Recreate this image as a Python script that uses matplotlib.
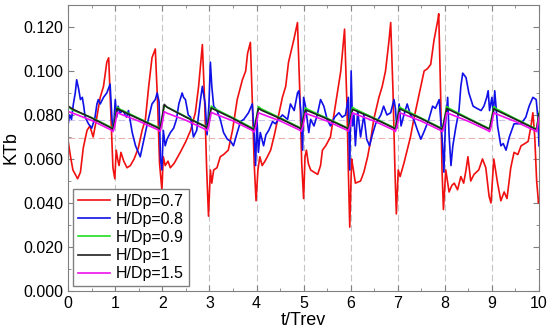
import matplotlib
matplotlib.use("Agg")
import matplotlib.pyplot as plt
from matplotlib.ticker import MultipleLocator

plt.rcParams["font.family"] = ["Liberation Sans", "DejaVu Sans"]

# --------------------------------------------------------------------------- #
# Data                                       #
# --------------------------------------------------------------------------- #
labels = ["H/Dp=0.7", "H/Dp=0.8", "H/Dp=0.9", "H/Dp=1", "H/Dp=1.5"]

t_07 = [0.00, 0.05, 0.10, 0.15, 0.20, 0.26, 0.32, 0.40, 0.46, 0.53, 0.60, 0.68, 0.75, 0.82, 0.86,
        0.91, 0.95, 0.99, 1.02, 1.05, 1.08, 1.12, 1.18, 1.25, 1.32, 1.40, 1.49, 1.57, 1.64, 1.71,
        1.78, 1.85, 1.90, 1.94, 1.99, 2.02, 2.06, 2.12, 2.17, 2.25, 2.38, 2.50, 2.60, 2.70, 2.77,
        2.85, 2.90, 2.94, 2.98, 3.02, 3.05, 3.09, 3.16, 3.23, 3.30, 3.40, 3.49, 3.59, 3.70, 3.77,
        3.81, 3.87, 3.92, 3.95, 3.99, 4.03, 4.07, 4.12, 4.18, 4.23, 4.30, 4.38, 4.45, 4.55, 4.62,
        4.68, 4.79, 4.87, 4.92, 4.96, 5.00, 5.03, 5.06, 5.10, 5.15, 5.22, 5.30, 5.36, 5.40, 5.47,
        5.57, 5.68, 5.79, 5.85, 5.87, 5.92, 5.95, 5.98, 6.02, 6.05, 6.10, 6.21, 6.28, 6.36, 6.42,
        6.49, 6.60, 6.67, 6.74, 6.81, 6.85, 6.90, 6.94, 6.97, 7.01, 7.05, 7.13, 7.20, 7.27, 7.34,
        7.49, 7.56, 7.63, 7.70, 7.77, 7.85, 7.87, 7.91, 7.94, 7.97, 8.02, 8.09, 8.15, 8.20, 8.27,
        8.34, 8.40, 8.45, 8.49, 8.55, 8.62, 8.72, 8.80, 8.87, 8.94, 8.98, 9.04, 9.12, 9.19, 9.26,
        9.32, 9.40, 9.47, 9.55, 9.62, 9.70, 9.77, 9.83, 9.87, 9.91, 9.95, 9.99, 10.00]
kt_07 = [0.068, 0.061, 0.055, 0.053, 0.051, 0.054, 0.065, 0.073, 0.075, 0.070, 0.078, 0.088, 0.093, 0.104, 0.106,
         0.078, 0.056, 0.051, 0.064, 0.060, 0.057, 0.063, 0.059, 0.056, 0.057, 0.060, 0.065, 0.073, 0.078, 0.093,
         0.106, 0.110, 0.085, 0.058, 0.046, 0.061, 0.057, 0.059, 0.056, 0.058, 0.063, 0.068, 0.073, 0.081, 0.093,
         0.112, 0.085, 0.056, 0.034, 0.055, 0.049, 0.055, 0.056, 0.061, 0.062, 0.064, 0.073, 0.087, 0.096, 0.100,
         0.108, 0.113, 0.080, 0.058, 0.041, 0.055, 0.061, 0.057, 0.059, 0.061, 0.064, 0.071, 0.078, 0.088, 0.093,
         0.104, 0.114, 0.122, 0.090, 0.058, 0.042, 0.061, 0.064, 0.058, 0.055, 0.054, 0.053, 0.057, 0.064, 0.066,
         0.070, 0.085, 0.100, 0.114, 0.119, 0.085, 0.055, 0.029, 0.060, 0.056, 0.049, 0.050, 0.054, 0.061, 0.068,
         0.078, 0.088, 0.093, 0.100, 0.113, 0.122, 0.090, 0.055, 0.035, 0.055, 0.052, 0.058, 0.064, 0.070, 0.078,
         0.093, 0.100, 0.101, 0.103, 0.114, 0.123, 0.126, 0.090, 0.055, 0.037, 0.055, 0.045, 0.048, 0.049, 0.046,
         0.052, 0.049, 0.055, 0.061, 0.050, 0.053, 0.055, 0.060, 0.056, 0.043, 0.040, 0.060, 0.049, 0.041, 0.045,
         0.042, 0.056, 0.063, 0.062, 0.066, 0.067, 0.068, 0.075, 0.081, 0.070, 0.050, 0.040, 0.042]

t_08 = [0.00, 0.03, 0.07, 0.11, 0.15, 0.18, 0.22, 0.26, 0.30, 0.33, 0.36, 0.43, 0.50, 0.57, 0.61,
        0.64, 0.68, 0.75, 0.82, 0.89, 0.93, 0.96, 1.00, 1.03, 1.06, 1.10, 1.17, 1.21, 1.24, 1.28,
        1.36, 1.43, 1.49, 1.53, 1.60, 1.68, 1.78, 1.85, 1.89, 1.93, 1.96, 1.99, 2.02, 2.06, 2.10,
        2.17, 2.24, 2.30, 2.35, 2.42, 2.45, 2.49, 2.55, 2.60, 2.66, 2.73, 2.81, 2.85, 2.91, 2.95,
        2.99, 3.02, 3.05, 3.09, 3.16, 3.23, 3.30, 3.38, 3.45, 3.51, 3.59, 3.66, 3.73, 3.83, 3.91,
        3.95, 3.98, 4.01, 4.04, 4.08, 4.15, 4.20, 4.26, 4.34, 4.40, 4.47, 4.55, 4.66, 4.72, 4.80,
        4.87, 4.90, 4.94, 4.98, 5.00, 5.04, 5.08, 5.11, 5.15, 5.22, 5.29, 5.36, 5.43, 5.50, 5.57,
        5.66, 5.75, 5.82, 5.89, 5.95, 5.98, 6.01, 6.04, 6.07, 6.10, 6.15, 6.21, 6.28, 6.34, 6.40,
        6.46, 6.53, 6.64, 6.70, 6.77, 6.85, 6.92, 6.95, 6.98, 7.03, 7.07, 7.13, 7.20, 7.27, 7.34,
        7.42, 7.49, 7.57, 7.66, 7.74, 7.80, 7.88, 7.95, 7.98, 8.01, 8.06, 8.09, 8.13, 8.17, 8.23,
        8.30, 8.34, 8.38, 8.45, 8.51, 8.60, 8.68, 8.77, 8.83, 8.89, 8.92, 8.95, 9.00, 9.03, 9.06,
        9.12, 9.19, 9.24, 9.30, 9.37, 9.47, 9.62, 9.72, 9.79, 9.87, 9.94, 9.98, 10.00]
kt_08 = [0.076, 0.080, 0.078, 0.085, 0.090, 0.096, 0.092, 0.087, 0.088, 0.084, 0.079, 0.076, 0.074, 0.079, 0.085,
         0.087, 0.085, 0.088, 0.090, 0.094, 0.078, 0.073, 0.087, 0.079, 0.084, 0.081, 0.082, 0.080, 0.079, 0.082,
         0.072, 0.066, 0.063, 0.061, 0.068, 0.076, 0.085, 0.087, 0.090, 0.086, 0.060, 0.055, 0.073, 0.066, 0.069,
         0.072, 0.074, 0.078, 0.085, 0.090, 0.088, 0.087, 0.080, 0.079, 0.070, 0.073, 0.087, 0.093, 0.085, 0.071,
         0.085, 0.104, 0.093, 0.084, 0.082, 0.078, 0.072, 0.069, 0.068, 0.066, 0.072, 0.077, 0.078, 0.081, 0.085,
         0.071, 0.057, 0.078, 0.063, 0.072, 0.066, 0.071, 0.073, 0.077, 0.076, 0.078, 0.080, 0.078, 0.085, 0.082,
         0.090, 0.091, 0.082, 0.064, 0.088, 0.084, 0.077, 0.072, 0.078, 0.075, 0.080, 0.087, 0.084, 0.078, 0.075,
         0.079, 0.081, 0.079, 0.080, 0.088, 0.055, 0.100, 0.075, 0.080, 0.066, 0.082, 0.070, 0.080, 0.069, 0.066,
         0.071, 0.076, 0.080, 0.084, 0.080, 0.081, 0.087, 0.083, 0.074, 0.085, 0.075, 0.080, 0.085, 0.080, 0.078,
         0.073, 0.069, 0.073, 0.078, 0.084, 0.083, 0.087, 0.067, 0.054, 0.075, 0.088, 0.071, 0.057, 0.066, 0.074,
         0.082, 0.093, 0.099, 0.097, 0.090, 0.084, 0.083, 0.082, 0.084, 0.088, 0.091, 0.082, 0.088, 0.080, 0.091,
         0.075, 0.066, 0.067, 0.064, 0.070, 0.076, 0.076, 0.079, 0.084, 0.088, 0.087, 0.078, 0.066]

# smooth sawtooth-like curves
t_saw = [0.00, 0.10, 0.50, 0.90, 0.95, 0.99, 1.04,
         1.10, 1.50, 1.90, 1.95, 1.99, 2.04,
         2.10, 2.50, 2.90, 2.95, 2.99, 3.04,
         3.10, 3.50, 3.90, 3.95, 3.99, 4.04,
         4.10, 4.50, 4.90, 4.95, 4.99, 5.04,
         5.10, 5.50, 5.90, 5.95, 5.99, 6.04,
         6.10, 6.50, 6.90, 6.95, 6.99, 7.04,
         7.10, 7.50, 7.90, 7.95, 7.99, 8.04,
         8.10, 8.50, 8.90, 8.95, 8.99, 9.04,
         9.10, 9.50, 9.90, 9.95, 10.00]
kt_09 = [0.0836, 0.0822, 0.0788, 0.0745, 0.0739, 0.0780, 0.0836,
         0.0826, 0.0785, 0.0745, 0.0739, 0.0784, 0.0842,
         0.0836, 0.0792, 0.0750, 0.0745, 0.0790, 0.0840,
         0.0830, 0.0787, 0.0742, 0.0736, 0.0780, 0.0838,
         0.0828, 0.0787, 0.0745, 0.0739, 0.0784, 0.0832,
         0.0824, 0.0785, 0.0745, 0.0740, 0.0785, 0.0835,
         0.0826, 0.0786, 0.0745, 0.0739, 0.0785, 0.0836,
         0.0828, 0.0786, 0.0743, 0.0738, 0.0783, 0.0838,
         0.0829, 0.0785, 0.0743, 0.0738, 0.0783, 0.0838,
         0.0827, 0.0783, 0.0741, 0.0738, 0.0812]
kt_10 = [0.0840, 0.0826, 0.0786, 0.0742, 0.0735, 0.0775, 0.0830,
         0.0822, 0.0782, 0.0742, 0.0736, 0.0780, 0.0848,
         0.0835, 0.0790, 0.0748, 0.0742, 0.0785, 0.0832,
         0.0825, 0.0784, 0.0738, 0.0732, 0.0775, 0.0830,
         0.0822, 0.0784, 0.0742, 0.0736, 0.0780, 0.0822,
         0.0818, 0.0782, 0.0742, 0.0737, 0.0780, 0.0825,
         0.0820, 0.0783, 0.0742, 0.0736, 0.0780, 0.0828,
         0.0822, 0.0783, 0.0740, 0.0735, 0.0778, 0.0830,
         0.0823, 0.0782, 0.0740, 0.0735, 0.0778, 0.0828,
         0.0821, 0.0780, 0.0738, 0.0735, 0.0805]
kt_15 = [0.0815, 0.0808, 0.0775, 0.0733, 0.0724, 0.0750, 0.0812,
         0.0805, 0.0772, 0.0733, 0.0725, 0.0752, 0.0815,
         0.0808, 0.0776, 0.0736, 0.0728, 0.0755, 0.0812,
         0.0806, 0.0773, 0.0731, 0.0722, 0.0750, 0.0810,
         0.0805, 0.0773, 0.0733, 0.0725, 0.0752, 0.0808,
         0.0803, 0.0772, 0.0733, 0.0726, 0.0753, 0.0810,
         0.0804, 0.0772, 0.0733, 0.0725, 0.0752, 0.0810,
         0.0805, 0.0772, 0.0731, 0.0724, 0.0751, 0.0810,
         0.0805, 0.0771, 0.0731, 0.0724, 0.0751, 0.0810,
         0.0804, 0.0770, 0.0730, 0.0724, 0.0790]

mean_lines = [0.0695, 0.0777]
rev_marks = [1, 2, 3, 4, 5, 6, 7, 8, 9]

# --------------------------------------------------------------------------- #
# Plot                                                                        #
# --------------------------------------------------------------------------- #
fig = plt.figure(figsize=(5.5, 3.31), dpi=100)
ax = fig.add_axes([0.124, 0.121, 0.856, 0.864])

for xv in rev_marks:
    ax.axvline(xv, color="#c4c4c4", lw=0.8, ls=(0, (6, 3)), zorder=0)
ax.axhline(mean_lines[0], color="#ebb0b0", lw=0.8, ls=(0, (6, 3)), zorder=0)
ax.axhline(mean_lines[1], color="#ccc4e6", lw=0.8, ls=(0, (6, 3)), zorder=0)

ax.plot(t_07, kt_07, color="#f01010", lw=1.2, label=labels[0])
ax.plot(t_08, kt_08, color="#1010e8", lw=1.2, label=labels[1])
ax.plot(t_saw, kt_09, color="#22dd22", lw=1.2, label=labels[2])
ax.plot(t_saw, kt_10, color="#202020", lw=1.2, label=labels[3])
ax.plot(t_saw, kt_15, color="#ee10ee", lw=1.2, label=labels[4])

ax.set_xlim(0, 10)
ax.set_ylim(0, 0.130)
ax.xaxis.set_major_locator(MultipleLocator(1))
ax.xaxis.set_minor_locator(MultipleLocator(0.5))
ax.yaxis.set_major_locator(MultipleLocator(0.02))
ax.yaxis.set_minor_locator(MultipleLocator(0.01))
ax.yaxis.set_major_formatter(lambda v, p: f"{v:.3f}")
ax.tick_params(which="both", direction="in", top=True, right=True, colors="#808080",
               labelcolor="black", labelsize=11.5)
ax.tick_params(which="major", length=4)
ax.tick_params(which="minor", length=2)
for s in ax.spines.values():
    s.set_color("#808080")

ax.set_xlabel("t/Trev", fontsize=13, labelpad=1)
ax.set_ylabel("KTb", fontsize=13, labelpad=3)

leg = ax.legend(loc="lower left", fontsize=11.5, handlelength=2.0, labelspacing=0.2,
                borderpad=0.3, borderaxespad=0.3, handletextpad=0.4, fancybox=False,
                framealpha=1)
leg.get_frame().set_edgecolor("#808080")

fig.savefig("out.png", dpi=100)
